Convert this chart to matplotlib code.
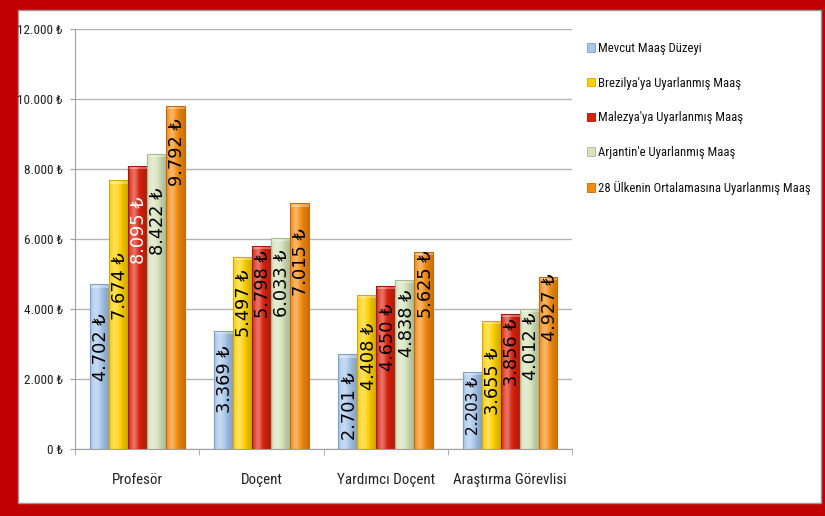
import numpy as np
import matplotlib.pyplot as plt
from matplotlib.patches import Rectangle, Patch
from matplotlib.colors import to_rgb
from matplotlib.ticker import FixedLocator, FuncFormatter

# Maaş verileri (TL)
kategoriler = ["Profesör", "Doçent", "Yardımcı Doçent", "Araştırma Görevlisi"]
seriler = [
    "Mevcut Maaş Düzeyi",
    "Brezilya'ya Uyarlanmış Maaş",
    "Malezya'ya Uyarlanmış Maaş",
    "Arjantin'e Uyarlanmış Maaş",
    "28 Ülkenin Ortalamasına Uyarlanmış Maaş",
]
mevcut = [4702, 3369, 2701, 2203]
brezilya = [7674, 5497, 4408, 3655]
malezya = [8095, 5798, 4650, 3856]
arjantin = [8422, 6033, 4838, 4012]
ortalama28 = [9792, 7015, 5625, 4927]
degerler = [mevcut, brezilya, malezya, arjantin, ortalama28]
y_ticks = [0, 2000, 4000, 6000, 8000, 10000, 12000]

# stil
renkler = ["#A7C6EA", "#FFD000", "#D9220E", "#D5E3BA", "#F48A10"]
kenarlar = ["#7E9FCB", "#D6A800", "#A51806", "#A8B98C", "#C46A08"]
# etiketin çubuk tepesinden aşağı kaydırılması (piksel)
etiket_kayma = [
    [29, 14, 18, 5],
    [72, 13, 28, 26],
    [31, 4, 17, 4],
    [33, 12, 10, 4],
    [12, 25, -2, -3],
]
etiket_renk = [
    ["black"] * 4,
    ["black"] * 4,
    ["white", "black", "black", "black"],
    ["black"] * 4,
    ["black"] * 4,
]

dar = ["Roboto Condensed", "DejaVu Sans"]

W, H = 825, 516
fig = plt.figure(figsize=(W / 100, H / 100), dpi=100)
fig.patch.set_facecolor("#C00000")
fig.patches.append(Rectangle((18 / W, 13 / H), 803 / W, 493 / H,
                             transform=fig.transFigure, facecolor="white",
                             edgecolor="#9A9A9A", lw=1, zorder=-1))

ax = fig.add_axes([75 / W, 67 / H, 497 / W, 420 / H])
ax.set_facecolor("none")

px = 72 / 100  # piksel -> punto


def gradyan(renk):
    base = np.array(to_rgb(renk))
    t = np.linspace(0, 1, 40)
    l = 0.38 * np.exp(-((t - 0.32) / 0.22) ** 2) - 0.18 * t ** 2 - 0.08 * np.exp(-(t / 0.06) ** 2)
    cols = []
    for v in l:
        if v >= 0:
            cols.append(base + (1 - base) * v)
        else:
            cols.append(base * (1 + v))
    return np.clip(np.array(cols)[None, :, :], 0, 1)


n = len(seriler)
bw = 0.1526
x = np.arange(len(kategoriler))
for j in range(n):
    pos = x - 0.38 + bw * (j + 0.5)
    bars = ax.bar(pos, degerler[j], width=bw, facecolor="none",
                  edgecolor=kenarlar[j], lw=0.8, zorder=2.2)
    g = gradyan(renkler[j])
    for i, b in enumerate(bars):
        x0, h = b.get_x(), b.get_height()
        im = ax.imshow(g, extent=[x0, x0 + bw, 0, h], aspect="auto",
                       interpolation="bicubic", zorder=2)
        im.set_clip_path(b)
        # tepe parlaklığı
        ax.add_patch(Rectangle((x0, h - 90), bw, 90, facecolor="white",
                               alpha=0.35, lw=0, zorder=2.1))
        v = degerler[j][i]
        metin = f"{v:,}".replace(",", ".") + " ₺"
        fs = 11 if (j == 0 and i == 3) else 12.8
        ax.annotate(metin, (pos[i], v), xytext=(1.3, -etiket_kayma[j][i] * px),
                    textcoords="offset points", rotation=90, ha="center",
                    va="top", fontsize=fs, color=etiket_renk[j][i],
                    family="DejaVu Sans", zorder=3)

ax.set_xlim(-0.5, 3.5)
ax.set_ylim(0, 12000)
ax.set_axisbelow(True)
ax.yaxis.grid(True, color="#B4B4B4", lw=1)
for s in ["top", "right"]:
    ax.spines[s].set_visible(False)
for s in ["left", "bottom"]:
    ax.spines[s].set_color("#A0A0A0")

ax.set_yticks(y_ticks)
ax.yaxis.set_major_formatter(FuncFormatter(lambda v, p: f"{int(v):,}".replace(",", ".") + " ₺"))
ax.tick_params(axis="y", length=5 * px, color="#A0A0A0", pad=5, labelcolor="#222222")
for t in ax.get_yticklabels():
    t.set_family(dar)
    t.set_fontsize(9.5)

ax.set_xticks(x)
ax.set_xticklabels(kategoriler, family=dar, fontsize=10.8, color="#222222")
ax.tick_params(axis="x", which="major", length=0, pad=17)
ax.xaxis.set_minor_locator(FixedLocator(np.arange(-0.5, 4, 1)))
ax.tick_params(axis="x", which="minor", length=6 * px, color="#A0A0A0")

handles = [Patch(facecolor=renkler[j], edgecolor=kenarlar[j], lw=0.6) for j in range(n)]
leg = fig.legend(handles, seriler, loc="upper left", bbox_to_anchor=(587 / W, 1 - 42 / H),
                 frameon=False, prop={"family": dar, "size": 9.2},
                 handlelength=0.6, handleheight=0.65, handletextpad=0.3,
                 labelspacing=1.7, borderaxespad=0, borderpad=0)
for t in leg.get_texts():
    t.set_color("#111111")

fig.savefig("out.png", dpi=100, facecolor=fig.get_facecolor())
